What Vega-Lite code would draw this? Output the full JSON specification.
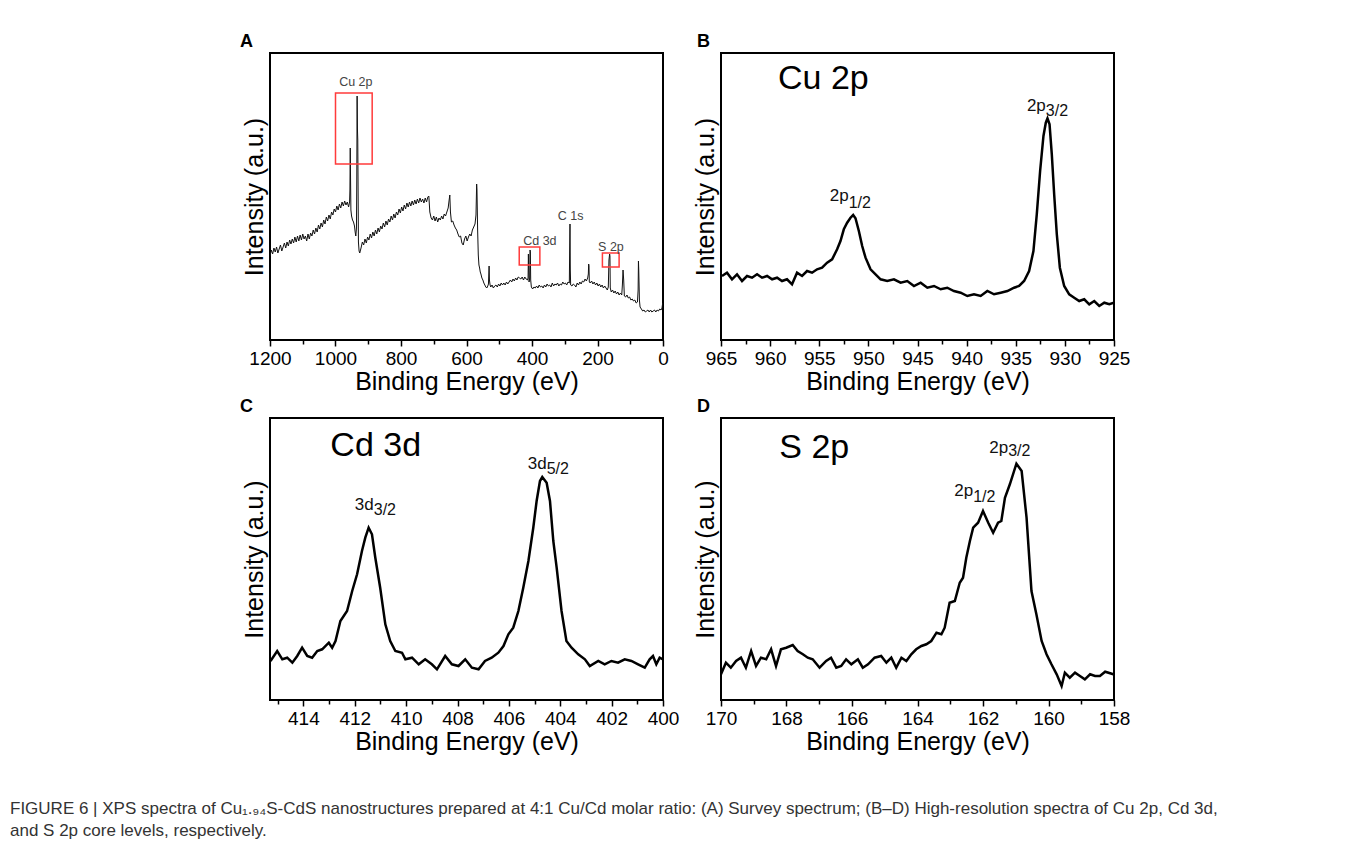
{
  "$schema": "https://vega.github.io/schema/vega-lite/v6.json",
  "background": "white",
  "padding": {"left": 10, "top": 32, "right": 5, "bottom": 5},
  "config": {
    "font": "Liberation Sans",
    "view": {"stroke": "#000", "strokeWidth": 2},
    "axis": {"grid": false, "domain": false, "labelFont": "Liberation Sans", "titleFont": "Liberation Sans", "labelColor": "#000", "titleColor": "#000", "titleFontWeight": "normal"},
    "axisX": {"labelFontSize": 19, "titleFontSize": 25, "tickColor": "#000", "tickWidth": 1.5, "labelPadding": 3, "titlePadding": 1, "labelFlush": false, "labelOverlap": false, "format": "d", "tickCount": 100},
    "axisY": {"labels": false, "ticks": false, "titleFontSize": 25, "titlePadding": 3},
    "title": {"font": "Liberation Sans", "fontSize": 18, "fontWeight": "bold", "color": "#000", "anchor": "start", "frame": "group"}
  },
  "datasets": {
    "survey": [
      {"E":1200,"I":84},{"E":1196,"I":90},{"E":1192,"I":86},{"E":1188,"I":92},{"E":1184,"I":88},{"E":1180,"I":93},{"E":1176,"I":87},{"E":1172,"I":91},{"E":1168,"I":95},{"E":1164,"I":89},{"E":1160,"I":93},{"E":1156,"I":97},{"E":1152,"I":92},{"E":1148,"I":98},{"E":1144,"I":94},{"E":1140,"I":100},{"E":1136,"I":96},{"E":1132,"I":101},{"E":1128,"I":97},{"E":1124,"I":103},{"E":1120,"I":98},{"E":1116,"I":104},{"E":1112,"I":99},{"E":1108,"I":105},{"E":1104,"I":100},{"E":1100,"I":106},{"E":1096,"I":101},{"E":1092,"I":104},{"E":1088,"I":99},{"E":1084,"I":106},{"E":1080,"I":101},{"E":1076,"I":107},{"E":1072,"I":104},{"E":1068,"I":110},{"E":1064,"I":106},{"E":1060,"I":112},{"E":1056,"I":108},{"E":1052,"I":115},{"E":1048,"I":111},{"E":1044,"I":117},{"E":1040,"I":113},{"E":1036,"I":120},{"E":1032,"I":116},{"E":1028,"I":123},{"E":1024,"I":119},{"E":1020,"I":125},{"E":1016,"I":121},{"E":1012,"I":128},{"E":1008,"I":125},{"E":1004,"I":131},{"E":1000,"I":128},{"E":996,"I":134},{"E":992,"I":130},{"E":988,"I":136},{"E":984,"I":132},{"E":980,"I":138},{"E":976,"I":134},{"E":972,"I":139},{"E":968,"I":135},{"E":964,"I":138},{"E":960,"I":133},{"E":957,"I":138},{"E":956,"I":150},{"E":955,"I":192},{"E":954,"I":160},{"E":953,"I":130},{"E":951,"I":124},{"E":948,"I":120},{"E":945,"I":118},{"E":942,"I":114},{"E":940,"I":108},{"E":938,"I":104},{"E":936,"I":112},{"E":935,"I":160},{"E":934,"I":244},{"E":933,"I":211},{"E":932,"I":200},{"E":931,"I":150},{"E":930,"I":98},{"E":928,"I":89},{"E":926,"I":87},{"E":922,"I":92},{"E":918,"I":98},{"E":914,"I":95},{"E":910,"I":101},{"E":906,"I":97},{"E":902,"I":103},{"E":898,"I":100},{"E":894,"I":106},{"E":890,"I":102},{"E":886,"I":108},{"E":882,"I":104},{"E":878,"I":110},{"E":874,"I":106},{"E":870,"I":112},{"E":866,"I":108},{"E":862,"I":114},{"E":858,"I":111},{"E":854,"I":117},{"E":850,"I":113},{"E":846,"I":119},{"E":842,"I":115},{"E":838,"I":121},{"E":834,"I":118},{"E":830,"I":124},{"E":826,"I":120},{"E":822,"I":126},{"E":818,"I":122},{"E":814,"I":128},{"E":810,"I":125},{"E":806,"I":131},{"E":802,"I":127},{"E":798,"I":133},{"E":794,"I":129},{"E":790,"I":135},{"E":786,"I":131},{"E":782,"I":137},{"E":778,"I":133},{"E":774,"I":138},{"E":770,"I":134},{"E":766,"I":139},{"E":762,"I":135},{"E":758,"I":140},{"E":754,"I":136},{"E":750,"I":141},{"E":746,"I":137},{"E":742,"I":142},{"E":738,"I":138},{"E":734,"I":141},{"E":730,"I":137},{"E":726,"I":142},{"E":722,"I":138},{"E":718,"I":143},{"E":715,"I":144},{"E":712,"I":128},{"E":708,"I":122},{"E":704,"I":120},{"E":700,"I":124},{"E":696,"I":119},{"E":692,"I":123},{"E":688,"I":118},{"E":684,"I":122},{"E":680,"I":120},{"E":676,"I":124},{"E":672,"I":121},{"E":668,"I":126},{"E":664,"I":124},{"E":660,"I":128},{"E":656,"I":132},{"E":653,"I":140},{"E":651,"I":145},{"E":649,"I":128},{"E":646,"I":118},{"E":642,"I":119},{"E":638,"I":115},{"E":634,"I":112},{"E":630,"I":110},{"E":626,"I":106},{"E":622,"I":103},{"E":618,"I":104},{"E":614,"I":97},{"E":610,"I":95},{"E":606,"I":101},{"E":602,"I":104},{"E":598,"I":99},{"E":594,"I":103},{"E":590,"I":106},{"E":586,"I":104},{"E":582,"I":110},{"E":578,"I":113},{"E":574,"I":116},{"E":571,"I":125},{"E":569,"I":156},{"E":568,"I":150},{"E":566,"I":110},{"E":564,"I":85},{"E":562,"I":75},{"E":560,"I":72},{"E":558,"I":68},{"E":556,"I":66},{"E":553,"I":62},{"E":550,"I":60},{"E":547,"I":57},{"E":544,"I":55},{"E":541,"I":53},{"E":538,"I":52},{"E":535,"I":54},{"E":533,"I":56},{"E":531,"I":74},{"E":530,"I":60},{"E":528,"I":55},{"E":526,"I":53},{"E":522,"I":55},{"E":518,"I":52},{"E":514,"I":54},{"E":510,"I":55},{"E":506,"I":53},{"E":502,"I":56},{"E":498,"I":54},{"E":494,"I":57},{"E":490,"I":55},{"E":486,"I":57},{"E":482,"I":55},{"E":478,"I":58},{"E":474,"I":56},{"E":470,"I":58},{"E":466,"I":60},{"E":462,"I":58},{"E":458,"I":61},{"E":454,"I":59},{"E":450,"I":62},{"E":446,"I":60},{"E":442,"I":63},{"E":438,"I":62},{"E":434,"I":61},{"E":430,"I":63},{"E":426,"I":60},{"E":422,"I":63},{"E":418,"I":61},{"E":414,"I":60},{"E":412,"I":62},{"E":411,"I":86},{"E":410,"I":70},{"E":409,"I":58},{"E":407,"I":62},{"E":406,"I":90},{"E":405,"I":88},{"E":404,"I":60},{"E":402,"I":53},{"E":398,"I":51},{"E":394,"I":53},{"E":390,"I":52},{"E":386,"I":54},{"E":382,"I":52},{"E":378,"I":55},{"E":374,"I":53},{"E":370,"I":54},{"E":366,"I":52},{"E":362,"I":55},{"E":358,"I":53},{"E":354,"I":56},{"E":350,"I":54},{"E":346,"I":55},{"E":342,"I":53},{"E":338,"I":57},{"E":334,"I":54},{"E":330,"I":56},{"E":326,"I":55},{"E":322,"I":57},{"E":318,"I":54},{"E":314,"I":56},{"E":310,"I":55},{"E":306,"I":58},{"E":302,"I":56},{"E":298,"I":57},{"E":294,"I":55},{"E":290,"I":58},{"E":286,"I":57},{"E":285,"I":90},{"E":284,"I":116},{"E":283,"I":70},{"E":282,"I":55},{"E":278,"I":54},{"E":274,"I":56},{"E":270,"I":55},{"E":266,"I":53},{"E":262,"I":57},{"E":258,"I":55},{"E":254,"I":58},{"E":250,"I":56},{"E":246,"I":59},{"E":242,"I":58},{"E":238,"I":61},{"E":234,"I":59},{"E":230,"I":62},{"E":228,"I":66},{"E":227,"I":76},{"E":226,"I":74},{"E":225,"I":58},{"E":222,"I":57},{"E":218,"I":59},{"E":214,"I":56},{"E":210,"I":58},{"E":206,"I":55},{"E":202,"I":57},{"E":198,"I":54},{"E":194,"I":56},{"E":190,"I":53},{"E":186,"I":55},{"E":182,"I":52},{"E":178,"I":54},{"E":174,"I":52},{"E":170,"I":50},{"E":167,"I":53},{"E":165,"I":80},{"E":163,"I":86},{"E":162,"I":84},{"E":161,"I":52},{"E":158,"I":48},{"E":154,"I":50},{"E":150,"I":47},{"E":146,"I":49},{"E":142,"I":46},{"E":138,"I":48},{"E":134,"I":45},{"E":130,"I":47},{"E":126,"I":45},{"E":124,"I":55},{"E":122,"I":70},{"E":120,"I":60},{"E":118,"I":44},{"E":114,"I":43},{"E":110,"I":45},{"E":106,"I":42},{"E":102,"I":43},{"E":98,"I":40},{"E":94,"I":41},{"E":90,"I":39},{"E":86,"I":40},{"E":82,"I":37},{"E":78,"I":38},{"E":76,"I":50},{"E":75,"I":79},{"E":74,"I":70},{"E":72,"I":40},{"E":70,"I":33},{"E":66,"I":31},{"E":62,"I":29},{"E":58,"I":30},{"E":54,"I":28},{"E":50,"I":29},{"E":46,"I":30},{"E":42,"I":28},{"E":38,"I":30},{"E":34,"I":28},{"E":30,"I":29},{"E":26,"I":30},{"E":22,"I":28},{"E":18,"I":30},{"E":14,"I":29},{"E":10,"I":31},{"E":6,"I":30},{"E":3,"I":32},{"E":1,"I":37}
    ],
    "cu": [
      {"E":964.9,"I":64},{"E":964.39,"I":67.3},{"E":963.88,"I":60.7},{"E":963.37,"I":65.7},{"E":962.86,"I":59},{"E":962.35,"I":64},{"E":961.84,"I":62.3},{"E":961.33,"I":65.7},{"E":960.82,"I":62.3},{"E":960.31,"I":64},{"E":959.8,"I":60.7},{"E":959.29,"I":62.3},{"E":958.79,"I":59},{"E":958.28,"I":60.7},{"E":957.77,"I":55.7},{"E":957.26,"I":67.3},{"E":956.75,"I":64},{"E":956.24,"I":69},{"E":955.73,"I":67.3},{"E":955.22,"I":70.7},{"E":954.71,"I":72.3},{"E":954.2,"I":77.3},{"E":953.69,"I":80.7},{"E":953.18,"I":90.7},{"E":952.84,"I":99},{"E":952.5,"I":110.7},{"E":952.16,"I":117.3},{"E":951.82,"I":122.3},{"E":951.55,"I":125},{"E":951.31,"I":121.7},{"E":950.97,"I":109},{"E":950.63,"I":94},{"E":950.29,"I":82.3},{"E":949.78,"I":70.7},{"E":949.27,"I":65.7},{"E":948.76,"I":60.7},{"E":948.08,"I":59},{"E":947.4,"I":60.7},{"E":946.72,"I":57.3},{"E":946.04,"I":59},{"E":945.36,"I":54},{"E":944.68,"I":57.3},{"E":944.0,"I":52.3},{"E":943.32,"I":54},{"E":942.64,"I":50.7},{"E":941.97,"I":52.3},{"E":941.29,"I":49},{"E":940.61,"I":47.3},{"E":939.93,"I":44},{"E":939.25,"I":45.7},{"E":938.57,"I":44},{"E":937.89,"I":49},{"E":937.21,"I":45.7},{"E":936.53,"I":47.3},{"E":935.85,"I":49},{"E":935.17,"I":52.3},{"E":934.66,"I":54},{"E":934.15,"I":59},{"E":933.64,"I":69},{"E":933.2,"I":89},{"E":932.86,"I":125.7},{"E":932.52,"I":169},{"E":932.18,"I":204},{"E":931.94,"I":217.3},{"E":931.77,"I":221.7},{"E":931.56,"I":215.7},{"E":931.33,"I":185.7},{"E":931.09,"I":145.7},{"E":930.82,"I":105.7},{"E":930.51,"I":72.3},{"E":930.07,"I":54},{"E":929.56,"I":45.7},{"E":929.05,"I":42.3},{"E":928.54,"I":39},{"E":928.03,"I":40.7},{"E":927.52,"I":35.7},{"E":927.01,"I":39},{"E":926.5,"I":34},{"E":925.99,"I":37.3},{"E":925.48,"I":35.7},{"E":925.0,"I":37.3}
    ],
    "cd": [
      {"E":415.28,"I":39},{"E":415.02,"I":49},{"E":414.82,"I":40.7},{"E":414.63,"I":42.3},{"E":414.43,"I":37.3},{"E":414.24,"I":44},{"E":414.05,"I":52.3},{"E":413.85,"I":44},{"E":413.66,"I":42.3},{"E":413.46,"I":49},{"E":413.27,"I":50.7},{"E":413.01,"I":57.3},{"E":412.88,"I":52.3},{"E":412.75,"I":59},{"E":412.56,"I":79},{"E":412.3,"I":89},{"E":412.1,"I":109},{"E":411.91,"I":125.7},{"E":411.72,"I":149},{"E":411.59,"I":162.3},{"E":411.46,"I":172.3},{"E":411.33,"I":165.7},{"E":411.2,"I":142.3},{"E":411.01,"I":112.3},{"E":410.81,"I":75.7},{"E":410.62,"I":59},{"E":410.42,"I":49},{"E":410.16,"I":47.3},{"E":410.03,"I":40.7},{"E":409.77,"I":42.3},{"E":409.51,"I":35.7},{"E":409.26,"I":40.7},{"E":409.0,"I":35.7},{"E":408.8,"I":30.7},{"E":408.48,"I":44},{"E":408.22,"I":35.7},{"E":407.96,"I":34},{"E":407.7,"I":40.7},{"E":407.44,"I":32.3},{"E":407.18,"I":30.7},{"E":406.93,"I":39},{"E":406.67,"I":42.3},{"E":406.41,"I":47.3},{"E":406.21,"I":54},{"E":406.02,"I":65.7},{"E":405.83,"I":72.3},{"E":405.63,"I":89},{"E":405.44,"I":112.3},{"E":405.24,"I":139},{"E":405.05,"I":172.3},{"E":404.92,"I":199},{"E":404.79,"I":219},{"E":404.7,"I":223},{"E":404.53,"I":217.3},{"E":404.4,"I":199},{"E":404.27,"I":159},{"E":404.14,"I":132.3},{"E":403.95,"I":89},{"E":403.76,"I":59},{"E":403.56,"I":52.3},{"E":403.3,"I":45.7},{"E":403.04,"I":40.7},{"E":402.85,"I":34},{"E":402.52,"I":39},{"E":402.27,"I":35.7},{"E":402.01,"I":39},{"E":401.75,"I":37.3},{"E":401.49,"I":40.7},{"E":401.23,"I":39},{"E":400.97,"I":35.7},{"E":400.71,"I":32.3},{"E":400.52,"I":40.7},{"E":400.39,"I":44},{"E":400.26,"I":35.7},{"E":400.13,"I":42.3},{"E":400.0,"I":40.7}
    ],
    "s": [
      {"E":170.0,"I":25.7},{"E":169.85,"I":37.3},{"E":169.7,"I":32.3},{"E":169.54,"I":39},{"E":169.39,"I":42.3},{"E":169.24,"I":32.3},{"E":169.08,"I":49},{"E":168.93,"I":34},{"E":168.78,"I":42.3},{"E":168.62,"I":40.7},{"E":168.47,"I":50.7},{"E":168.32,"I":34},{"E":168.17,"I":50.7},{"E":168.01,"I":52.3},{"E":167.81,"I":55},{"E":167.66,"I":49},{"E":167.5,"I":45.7},{"E":167.35,"I":42.3},{"E":167.2,"I":40.7},{"E":166.99,"I":32.3},{"E":166.79,"I":39},{"E":166.64,"I":42.3},{"E":166.48,"I":32.3},{"E":166.33,"I":34},{"E":166.18,"I":40.7},{"E":166.02,"I":35.7},{"E":165.82,"I":40.7},{"E":165.67,"I":32.3},{"E":165.51,"I":35.7},{"E":165.31,"I":42.3},{"E":165.11,"I":44},{"E":164.95,"I":37.3},{"E":164.8,"I":42.3},{"E":164.65,"I":32.3},{"E":164.49,"I":42.3},{"E":164.34,"I":39},{"E":164.19,"I":45.7},{"E":164.04,"I":50.7},{"E":163.88,"I":54},{"E":163.73,"I":55.7},{"E":163.58,"I":59},{"E":163.42,"I":67.3},{"E":163.27,"I":65.7},{"E":163.17,"I":72.3},{"E":163.02,"I":97.3},{"E":162.86,"I":99},{"E":162.71,"I":117.3},{"E":162.61,"I":122.3},{"E":162.51,"I":142.3},{"E":162.4,"I":159},{"E":162.3,"I":172.3},{"E":162.15,"I":177.3},{"E":162.0,"I":189},{"E":161.84,"I":177.3},{"E":161.69,"I":167.3},{"E":161.54,"I":177.3},{"E":161.44,"I":179},{"E":161.33,"I":202.3},{"E":161.18,"I":215.7},{"E":160.98,"I":236.3},{"E":160.82,"I":229},{"E":160.67,"I":182.3},{"E":160.52,"I":109},{"E":160.37,"I":85.7},{"E":160.21,"I":59},{"E":160.06,"I":45.7},{"E":159.91,"I":35.7},{"E":159.75,"I":25.7},{"E":159.6,"I":14},{"E":159.5,"I":27.3},{"E":159.35,"I":22.3},{"E":159.19,"I":27.3},{"E":159.04,"I":24},{"E":158.89,"I":20.7},{"E":158.73,"I":25.7},{"E":158.58,"I":24},{"E":158.43,"I":24},{"E":158.27,"I":28.3},{"E":158.02,"I":25.7}
    ],
    "annA": [
      {"E":938,"I":258,"t":"Cu 2p"},{"E":376,"I":99,"t":"Cd 3d"},{"E":282,"I":124,"t":"C 1s"},{"E":159,"I":93,"t":"S 2p"}
    ],
    "boxA": [
      {"x1":1000,"x2":888,"y1":176,"y2":247},{"x1":439,"x2":376,"y1":75,"y2":93},{"x1":185,"x2":134,"y1":73,"y2":87}
    ],
    "annB": [
      {"E":959.2,"I":261,"t":"Cu 2p","kind":"big"},{"E":931.94,"I":234,"t":"2p","kind":"main"},{"E":931.94,"I":229,"t":"3/2","kind":"sub"},{"E":952.0,"I":144,"t":"2p","kind":"main"},{"E":952.0,"I":137,"t":"1/2","kind":"sub"}
    ],
    "annC": [
      {"E":412.95,"I":254,"t":"Cd 3d","kind":"big"},{"E":411.26,"I":195,"t":"3d","kind":"main"},{"E":411.26,"I":189.7,"t":"3/2","kind":"sub"},{"E":404.53,"I":236.3,"t":"3d","kind":"main"},{"E":404.53,"I":230.7,"t":"5/2","kind":"sub"}
    ],
    "annD": [
      {"E":168.22,"I":252.3,"t":"S 2p","kind":"big"},{"E":161.23,"I":252.3,"t":"2p","kind":"main"},{"E":161.23,"I":248.7,"t":"3/2","kind":"sub"},{"E":162.3,"I":209,"t":"2p","kind":"main"},{"E":162.3,"I":203,"t":"1/2","kind":"sub"}
    ]
  },
  "title": {
    "text": ["FIGURE 6 | XPS spectra of Cu₁.₉₄S-CdS nanostructures prepared at 4:1 Cu/Cd molar ratio: (A) Survey spectrum; (B–D) High-resolution spectra of Cu 2p, Cd 3d,", "and S 2p core levels, respectively."],
    "orient": "bottom", "anchor": "start", "frame": "group", "dx": -260, "offset": 46,
    "fontSize": 17, "fontWeight": "normal", "color": "#333", "lineHeight": 22
  },
  "columns": 2,
  "spacing": {"row": 78, "column": 58},
  "bounds": "flush",
  "concat": [
    {
      "width": 393, "height": 287,
      "title": {"text": "A", "dx": -30, "offset": 2},
      "layer": [
        {
          "data": {"name": "survey"},
          "mark": {"type": "line", "color": "#111", "strokeWidth": 1, "clip": true},
          "encoding": {
            "x": {"field": "E", "type": "quantitative", "scale": {"domain": [1200, 0], "nice": false, "zero": false},
              "axis": {"title": "Binding Energy (eV)", "values": [1200,1100,1000,900,800,700,600,500,400,300,200,100,0], "labelExpr": "datum.value % 200 === 0 ? datum.label : ''", "tickSize": {"condition": {"test": "datum.value % 200 === 0", "value": 6}, "value": 4}}},
            "y": {"field": "I", "type": "quantitative", "scale": {"domain": [0, 287], "nice": false}, "axis": {"title": "Intensity (a.u.)"}}
          }
        },
        {
          "data": {"name": "boxA"},
          "mark": {"type": "rect", "fill": null, "fillOpacity": 0, "stroke": "#ff3b3b", "strokeWidth": 1.5},
          "encoding": {
            "x": {"field": "x1", "type": "quantitative"},
            "x2": {"field": "x2"},
            "y": {"field": "y1", "type": "quantitative"},
            "y2": {"field": "y2"}
          }
        },
        {
          "data": {"name": "annA"},
          "mark": {"type": "text", "fontSize": 12.5, "color": "#444", "align": "center", "baseline": "middle"},
          "encoding": {
            "x": {"field": "E", "type": "quantitative"},
            "y": {"field": "I", "type": "quantitative"},
            "text": {"field": "t"}
          }
        }
      ]
    },
    {
      "width": 393, "height": 287,
      "title": {"text": "B", "dx": -24, "offset": 2},
      "layer": [
        {
          "data": {"name": "cu"},
          "mark": {"type": "line", "color": "#000", "strokeWidth": 2.5, "clip": true},
          "encoding": {
            "x": {"field": "E", "type": "quantitative", "scale": {"domain": [965, 925], "nice": false, "zero": false},
              "axis": {"title": "Binding Energy (eV)", "values": [965,962.5,960,957.5,955,952.5,950,947.5,945,942.5,940,937.5,935,932.5,930,927.5,925], "labelExpr": "datum.value % 5 === 0 ? datum.label : ''", "tickSize": {"condition": {"test": "datum.value % 5 === 0", "value": 6}, "value": 4}}},
            "y": {"field": "I", "type": "quantitative", "scale": {"domain": [0, 287], "nice": false}, "axis": {"title": "Intensity (a.u.)"}}
          }
        },
        {
          "data": {"name": "annB"},
          "transform": [{"filter": "datum.kind === 'big'"}],
          "mark": {"type": "text", "fontSize": 34, "color": "#000", "align": "left", "baseline": "middle"},
          "encoding": {"x": {"field": "E", "type": "quantitative"}, "y": {"field": "I", "type": "quantitative"}, "text": {"field": "t"}}
        },
        {
          "data": {"name": "annB"},
          "transform": [{"filter": "datum.kind === 'main'"}],
          "mark": {"type": "text", "fontSize": 17, "color": "#111", "align": "right", "baseline": "middle"},
          "encoding": {"x": {"field": "E", "type": "quantitative"}, "y": {"field": "I", "type": "quantitative"}, "text": {"field": "t"}}
        },
        {
          "data": {"name": "annB"},
          "transform": [{"filter": "datum.kind === 'sub'"}],
          "mark": {"type": "text", "fontSize": 16, "color": "#111", "align": "left", "baseline": "middle"},
          "encoding": {"x": {"field": "E", "type": "quantitative"}, "y": {"field": "I", "type": "quantitative"}, "text": {"field": "t"}}
        }
      ]
    },
    {
      "width": 393, "height": 282,
      "title": {"text": "C", "dx": -30, "offset": 2},
      "layer": [
        {
          "data": {"name": "cd"},
          "mark": {"type": "line", "color": "#000", "strokeWidth": 2.5, "clip": true},
          "encoding": {
            "x": {"field": "E", "type": "quantitative", "scale": {"domain": [415.3, 400], "nice": false, "zero": false},
              "axis": {"title": "Binding Energy (eV)", "values": [415,414,413,412,411,410,409,408,407,406,405,404,403,402,401,400], "labelExpr": "datum.value % 2 === 0 ? datum.label : ''", "tickSize": {"condition": {"test": "datum.value % 2 === 0", "value": 6}, "value": 4}}},
            "y": {"field": "I", "type": "quantitative", "scale": {"domain": [0, 282], "nice": false}, "axis": {"title": "Intensity (a.u.)"}}
          }
        },
        {
          "data": {"name": "annC"},
          "transform": [{"filter": "datum.kind === 'big'"}],
          "mark": {"type": "text", "fontSize": 34, "color": "#000", "align": "left", "baseline": "middle"},
          "encoding": {"x": {"field": "E", "type": "quantitative"}, "y": {"field": "I", "type": "quantitative"}, "text": {"field": "t"}}
        },
        {
          "data": {"name": "annC"},
          "transform": [{"filter": "datum.kind === 'main'"}],
          "mark": {"type": "text", "fontSize": 17, "color": "#111", "align": "right", "baseline": "middle"},
          "encoding": {"x": {"field": "E", "type": "quantitative"}, "y": {"field": "I", "type": "quantitative"}, "text": {"field": "t"}}
        },
        {
          "data": {"name": "annC"},
          "transform": [{"filter": "datum.kind === 'sub'"}],
          "mark": {"type": "text", "fontSize": 16, "color": "#111", "align": "left", "baseline": "middle"},
          "encoding": {"x": {"field": "E", "type": "quantitative"}, "y": {"field": "I", "type": "quantitative"}, "text": {"field": "t"}}
        }
      ]
    },
    {
      "width": 393, "height": 282,
      "title": {"text": "D", "dx": -24, "offset": 2},
      "layer": [
        {
          "data": {"name": "s"},
          "mark": {"type": "line", "color": "#000", "strokeWidth": 2.5, "clip": true},
          "encoding": {
            "x": {"field": "E", "type": "quantitative", "scale": {"domain": [170, 158], "nice": false, "zero": false},
              "axis": {"title": "Binding Energy (eV)", "values": [170,169,168,167,166,165,164,163,162,161,160,159,158], "labelExpr": "datum.value % 2 === 0 ? datum.label : ''", "tickSize": {"condition": {"test": "datum.value % 2 === 0", "value": 6}, "value": 4}}},
            "y": {"field": "I", "type": "quantitative", "scale": {"domain": [0, 282], "nice": false}, "axis": {"title": "Intensity (a.u.)"}}
          }
        },
        {
          "data": {"name": "annD"},
          "transform": [{"filter": "datum.kind === 'big'"}],
          "mark": {"type": "text", "fontSize": 34, "color": "#000", "align": "left", "baseline": "middle"},
          "encoding": {"x": {"field": "E", "type": "quantitative"}, "y": {"field": "I", "type": "quantitative"}, "text": {"field": "t"}}
        },
        {
          "data": {"name": "annD"},
          "transform": [{"filter": "datum.kind === 'main'"}],
          "mark": {"type": "text", "fontSize": 17, "color": "#111", "align": "right", "baseline": "middle"},
          "encoding": {"x": {"field": "E", "type": "quantitative"}, "y": {"field": "I", "type": "quantitative"}, "text": {"field": "t"}}
        },
        {
          "data": {"name": "annD"},
          "transform": [{"filter": "datum.kind === 'sub'"}],
          "mark": {"type": "text", "fontSize": 16, "color": "#111", "align": "left", "baseline": "middle"},
          "encoding": {"x": {"field": "E", "type": "quantitative"}, "y": {"field": "I", "type": "quantitative"}, "text": {"field": "t"}}
        }
      ]
    }
  ]
}
